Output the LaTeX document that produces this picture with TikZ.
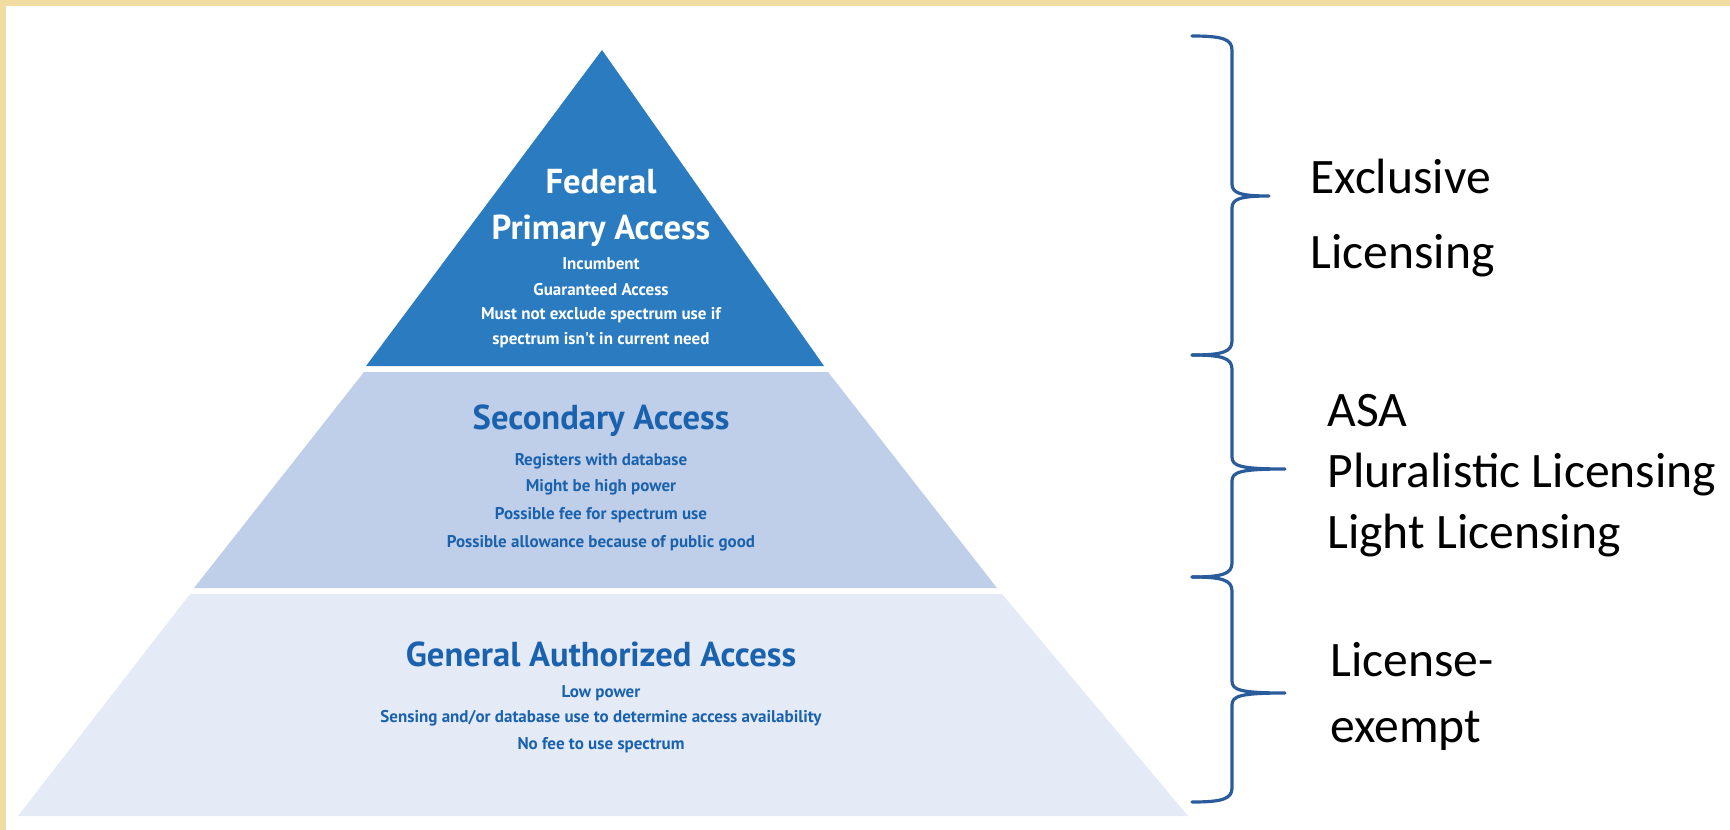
\documentclass[tikz,border=0pt]{standalone}
\usepackage{fontspec}
\setmainfont{Carlito}
\newfontfamily\pyr{PT Sans}
\definecolor{beige}{HTML}{F1DCA2}
\definecolor{topblue}{HTML}{2A7BC0}
\definecolor{midblue}{HTML}{BFCFE9}
\definecolor{lowblue}{HTML}{E4EAF6}
\definecolor{txtblue}{HTML}{1A62AD}
\definecolor{bracecol}{HTML}{2A5C9C}
\newcommand\mybrace[4]{%
  \draw[bracestyle] (1192,#1) .. controls (1222,#1) and (1232,#1+3) .. (1232,#1+14)
    -- (1232,#2-12) .. controls (1232,#2-3) and (1240,#2) .. (#4,#2)
    .. controls (1240,#2) and (1232,#2+3) .. (1232,#2+12)
    -- (1232,#3-14) .. controls (1232,#3-3) and (1222,#3) .. (1192,#3);}
\begin{document}
\begin{tikzpicture}[x=0.5pt,y=-0.5pt,
  bracestyle/.style={draw=bracecol,line width=1.6pt,line join=round,line cap=round},
  title/.style={font=\pyr\bfseries\fontsize{17.3}{20}\selectfont,text height=0.7em,text depth=0.2em,inner sep=0pt},
  small/.style={font=\pyr\bfseries\fontsize{8.5}{10}\selectfont,text height=0.7em,text depth=0.2em,inner sep=0pt},
  side/.style={font=\fontsize{24.8}{29}\selectfont,anchor=base west,inner sep=0pt}]
\useasboundingbox (0,0) rectangle (1730,830);
\fill[beige] (0,0) rectangle (1730,830);
\fill[white] (6,6) rectangle (1745,845);
% pyramid layers
\fill[topblue] (602,50) -- (824,366) -- (366,366) -- cycle;
\fill[midblue] (364,372) -- (828,372) -- (997,588) -- (194,588) -- cycle;
\fill[lowblue] (190,594) -- (1002,594) -- (1188,816) -- (18,816) -- cycle;
% top layer text
\node[title,white] (fed) at (601,188) {Federal};
\node[title,white] (prim) at (601,234) {Primary Access};
\node[small,white] (inc) at (601,264) {Incumbent};
\node[small,white] (guar) at (601,290) {Guaranteed Access};
\node[small,white] (must) at (601,314) {Must not exclude spectrum use if};
\node[small,white] (need) at (601,339) {spectrum isn't in current need};
% middle layer text
\node[title,txtblue] (sec) at (601,424) {Secondary Access};
\node[small,txtblue] (reg) at (601,460) {Registers with database};
\node[small,txtblue] (high) at (601,486) {Might be high power};
\node[small,txtblue] (fee) at (601,514) {Possible fee for spectrum use};
\node[small,txtblue] (allow) at (601,542) {Possible allowance because of public good};
% bottom layer text
\node[title,txtblue] (gen) at (601,661) {General Authorized Access};
\node[small,txtblue] (low) at (601,692) {Low power};
\node[small,txtblue] (sens) at (601,717) {Sensing and/or database use to determine access availability};
\node[small,txtblue] (nofee) at (601,744) {No fee to use spectrum};
% braces
\mybrace{36}{196}{355}{1269}
\mybrace{355}{469}{577}{1285}
\mybrace{577}{693}{802}{1285}
% side labels
\node[side] (excl) at (1310,193) {Exclusive};
\node[side] (lic) at (1310,268) {Licensing};
\node[side] (asa) at (1327,426) {ASA};
\node[side] (plur) at (1327,487) {Pluralistic Licensing};
\node[side] (light) at (1327,548) {Light Licensing};
\node[side] (lex) at (1330,676) {License-};
\node[side] (exm) at (1330,742) {exempt};
\end{tikzpicture}
\end{document}
